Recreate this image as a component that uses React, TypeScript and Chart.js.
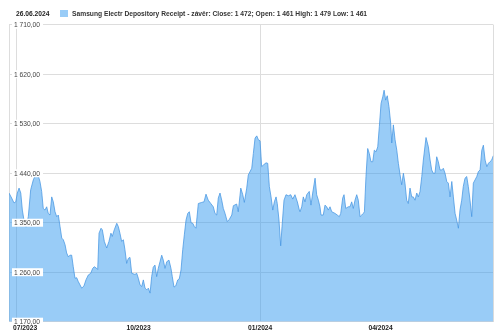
import React, { useEffect, useRef } from 'react';
import { Chart, registerables } from 'chart.js';

Chart.register(...registerables);

// Day offsets counted from the base date, and the daily close prices.
const baseDate = '2023-06-25';
const dayOffsets = [
  0, 2.0, 3.8, 5.1, 6.3, 7.6, 8.9, 10.1, 11.3, 12.9, 14.6, 16.4, 18.4, 19.7, 21.0, 22.2, 23.4, 24.7, 25.9, 27.2,
  28.5, 29.7, 31.0, 32.3, 33.5, 34.8, 36.1, 37.3, 38.6, 39.9, 41.1, 42.4, 43.6, 44.9, 46.1, 47.4, 48.6, 49.9, 51.2, 52.4,
  53.7, 55.0, 56.7, 58.2, 60.0, 61.8, 63.3, 64.5, 66.3,
  67.1, 68.1, 69.6, 70.6, 72.1, 73.9, 75.6, 77.1, 78.1, 79.6, 81.5, 82.7, 83.9, 85.2, 86.5, 87.7, 89.0, 90.2, 91.5, 92.8,
  95.3, 96.6, 97.8, 99.1, 100.4, 101.6, 102.9, 104.2, 105.4, 106.7, 107.9, 109.1, 110.4, 111.7, 112.9, 114.2, 115.5, 116.7, 118.0, 119.3,
  121.0, 122.5, 123.5, 124.8, 126.1, 127.6, 128.8, 130.1, 131.4, 132.6, 133.9, 135.2, 136.4, 137.7, 139.0, 140.2, 141.4,
  143.2, 145.8, 147.5, 149.0, 150.7, 152.6, 154.5, 155.8, 157.1, 158.3, 159.6, 160.9, 162.1, 163.4, 165.1, 166.6, 168.5, 169.7, 172.2, 173.4,
  175.3, 176.8, 178.0, 179.8, 181.0, 183.6, 184.8, 186.1, 187.4, 188.6, 189.9, 191.1, 192.4, 194.4, 195.7, 196.9, 198.2, 199.5, 200.7, 202.0,
  202.9, 204.2, 205.5, 206.5, 208.0, 209.5, 211.3, 213.1, 214.6, 216.3, 218.1, 219.6,
  220.1, 221.4, 222.6, 223.9, 225.2, 227.1, 228.4, 229.7, 231.5, 232.7, 234.0, 235.2, 236.0, 237.7, 239.0, 240.3, 241.5, 242.8, 244.1, 246.6,
  248.3, 249.8, 250.9, 252.4, 253.4, 254.7, 256.6, 257.9, 259.2, 260.4, 261.7, 263.0, 264.2, 265.5, 266.8, 268.0, 268.8, 270.0, 271.3, 272.5,
  273.8, 275.1, 276.3, 277.6, 278.9, 280.1, 281.4, 282.7, 283.7, 284.9, 286.1, 287.4, 288.7, 289.5, 290.7, 292.0, 293.3, 294.5, 295.8, 297.0,
  298.3, 299.5, 300.8, 302.0, 303.3, 304.6, 305.8, 307.1, 308.4, 309.6, 310.9, 312.2, 313.4, 315.4, 317.2, 318.5, 319.7, 320.9, 322.2, 323.5,
  324.7, 326.0, 327.3, 328.5, 329.8, 331.1, 332.3, 333.6, 334.9, 336.1, 337.4, 338.6, 339.9, 341.1, 342.4, 343.6, 344.9, 346.2, 347.4, 348.7,
  350.0, 351.2, 352.5, 353.8, 355.0, 356.3, 357.6, 358.8, 360.1, 361.4, 362.6, 363.8, 365.1, 366.3,
];
const closePrices = [
  1404, 1395, 1386, 1388, 1404, 1413, 1404, 1373, 1355, 1342, 1361, 1410, 1428, 1435, 1434, 1435, 1425, 1407, 1376, 1373,
  1379, 1367, 1364, 1397, 1388, 1370, 1361, 1364, 1343, 1322, 1319, 1310, 1295, 1288, 1291, 1291, 1270, 1249, 1250, 1243,
  1237, 1231, 1235, 1246, 1255, 1258, 1267, 1270, 1267,
  1265, 1331, 1340, 1337, 1316, 1304, 1316, 1331, 1325, 1337, 1349, 1343, 1331, 1316, 1319, 1301, 1276, 1285, 1287, 1258,
  1256, 1258, 1249, 1237, 1234, 1246, 1231, 1228, 1231, 1222, 1252, 1269, 1273, 1252, 1267, 1279, 1291, 1282, 1267, 1279,
  1282, 1267, 1252, 1233, 1235, 1246, 1248, 1264, 1301, 1328, 1355, 1367, 1370, 1350, 1349, 1343, 1340,
  1385, 1387, 1388, 1402, 1391, 1385, 1379, 1367, 1364, 1395, 1404, 1391, 1376, 1367, 1352, 1356, 1364, 1381, 1384, 1370,
  1413, 1401, 1387, 1413, 1437, 1449, 1476, 1504, 1508, 1501, 1499, 1452, 1455, 1459, 1458, 1416, 1397, 1373, 1388, 1397,
  1385, 1355, 1308, 1343, 1391, 1401, 1399, 1401, 1393, 1401, 1388, 1373,
  1370, 1379, 1397, 1388, 1401, 1407, 1382, 1404, 1431, 1401, 1391, 1379, 1364, 1364, 1382, 1379, 1373, 1379, 1370, 1367,
  1364, 1361, 1367, 1395, 1401, 1376, 1379, 1379, 1388, 1376, 1391, 1401, 1391, 1361, 1364, 1367, 1370, 1434, 1485, 1476,
  1461, 1461, 1482, 1479, 1488, 1525, 1567, 1579, 1591, 1573, 1581, 1561, 1531, 1495, 1528, 1501, 1482, 1458, 1437, 1419,
  1440, 1422, 1391, 1385, 1413, 1397, 1397, 1391, 1404, 1397, 1407, 1434, 1464, 1505, 1488, 1464, 1446, 1440, 1440, 1470,
  1461, 1446, 1446, 1449, 1440, 1425, 1422, 1397, 1425, 1397, 1367, 1355, 1340, 1373, 1391, 1416, 1431, 1434, 1416, 1391,
  1361, 1422, 1428, 1434, 1443, 1446, 1482, 1491, 1464, 1452, 1458, 1461, 1464, 1472,
];
const lastDayOffset = 366.3;
const yTickValues = [1170, 1260, 1350, 1440, 1530, 1620, 1710];
const xTickMonths = ['2023-07-01', '2023-10-01', '2024-01-01', '2024-04-01'];
const xGridMonths = ['2023-07-01', '2024-01-01'];
const headerDate = '26.06.2024';
const legendText =
  'Samsung Electr Depository Receipt - závěr: Close: 1 472; Open: 1 461 High: 1 479 Low: 1 461';

const FONT = '"Liberation Sans", Arial, Helvetica, sans-serif';
const FILL = 'rgba(51, 153, 240, 0.5)';
const LINE = 'rgba(70, 150, 225, 0.75)';
const GRID = '#dddddd';

function dayOf(iso: string): number {
  return (Date.parse(iso + 'T00:00:00Z') - Date.parse(baseDate + 'T00:00:00Z')) / 86400000;
}
function fmtPrice(v: number): string {
  const [i, d] = v.toFixed(2).split('.');
  return i.replace(/\B(?=(\d{3})+(?!\d))/g, ' ') + ',' + d;
}
function fmtMonth(iso: string): string {
  return iso.slice(5, 7) + '/' + iso.slice(0, 4);
}

const gridDays = xGridMonths.map(dayOf);

const labelPlugin = {
  id: 'customLabels',
  beforeDatasetsDraw(chart: any) {
    const { ctx, chartArea } = chart;
    ctx.save();
    ctx.strokeStyle = GRID;
    ctx.lineWidth = 1;
    ctx.beginPath();
    const rx = Math.round(chartArea.right) + 0.5;
    ctx.moveTo(rx, chartArea.top);
    ctx.lineTo(rx, chartArea.bottom);
    ctx.stroke();
    ctx.restore();
  },
  afterDatasetsDraw(chart: any) {
    const { ctx, chartArea, scales } = chart;
    const y = scales.y;
    const x = scales.x;
    ctx.save();
    ctx.font = `6.7px ${FONT}`;
    ctx.textBaseline = 'middle';
    ctx.textAlign = 'left';
    for (const v of yTickValues) {
      const py = y.getPixelForValue(v);
      const txt = fmtPrice(v);
      const w = ctx.measureText(txt).width;
      const lx = chartArea.left + 5;
      ctx.fillStyle = '#ffffff';
      ctx.fillRect(lx - 2, py - 4, w + 5, 8);
      ctx.fillStyle = '#444444';
      ctx.fillText(txt, lx, py + 0.5);
    }
    ctx.font = `bold 6.7px ${FONT}`;
    ctx.textBaseline = 'top';
    for (const m of xTickMonths) {
      const px = x.getPixelForValue(dayOf(m));
      const txt = fmtMonth(m);
      const w = ctx.measureText(txt).width;
      const lx = Math.max(px - w / 2, chartArea.left + 4);
      ctx.fillStyle = '#222222';
      ctx.fillText(txt, lx, chartArea.bottom + 3);
    }
    ctx.restore();
  },
};

export default function App() {
  const canvasRef = useRef<HTMLCanvasElement | null>(null);

  useEffect(() => {
    document.body.style.margin = '0';
    const canvas = canvasRef.current;
    if (!canvas) return;
    const points = dayOffsets.map((d, i) => ({ x: d, y: closePrices[i] }));
    const chart = new Chart(canvas, {
      type: 'line',
      data: {
        datasets: [
          {
            data: points,
            borderColor: LINE,
            backgroundColor: FILL,
            borderWidth: 1,
            fill: 'start',
            pointRadius: 0,
            tension: 0,
          },
        ],
      },
      options: {
        animation: false,
        responsive: false,
        devicePixelRatio: 1,
        layout: { padding: { left: 9, right: 6.7, top: 24.8, bottom: 13.3 } },
        plugins: { legend: { display: false }, tooltip: { enabled: false } },
        scales: {
          x: {
            type: 'linear',
            min: 0,
            max: lastDayOffset,
            afterBuildTicks: (scale: any) => {
              scale.ticks = xTickMonths.map((m) => ({ value: dayOf(m) }));
            },
            ticks: { display: false },
            grid: {
              drawTicks: false,
              color: (ctx: any) => (ctx.tick && gridDays.includes(ctx.tick.value) ? GRID : 'rgba(0,0,0,0)'),
            },
            border: { display: true, color: GRID },
          },
          y: {
            min: 1170,
            max: 1710,
            afterBuildTicks: (scale: any) => {
              scale.ticks = yTickValues.map((v) => ({ value: v }));
            },
            ticks: { display: false },
            grid: { drawTicks: false, color: GRID },
            border: { display: true, color: GRID },
          },
        },
      },
      plugins: [labelPlugin],
    });
    return () => chart.destroy();
  }, []);

  return (
    <div style={{ position: 'relative', width: 500, height: 335, background: '#fff', fontFamily: FONT }}>
      <canvas ref={canvasRef} width={500} height={335} style={{ display: 'block' }} />
      <div
        style={{
          position: 'absolute',
          left: 16,
          top: 10,
          fontSize: '6.7px',
          lineHeight: '8px',
          fontWeight: 'bold',
          color: '#222',
          whiteSpace: 'nowrap',
        }}
      >
        {headerDate}
      </div>
      <div
        style={{
          position: 'absolute',
          left: 60,
          top: 10,
          width: 8,
          height: 7,
          background: 'rgb(153, 204, 247)',
        }}
      />
      <div
        style={{
          position: 'absolute',
          left: 72,
          top: 10,
          fontSize: '6.7px',
          lineHeight: '8px',
          fontWeight: 'bold',
          color: '#333',
          whiteSpace: 'nowrap',
        }}
      >
        {legendText}
      </div>
    </div>
  );
}
